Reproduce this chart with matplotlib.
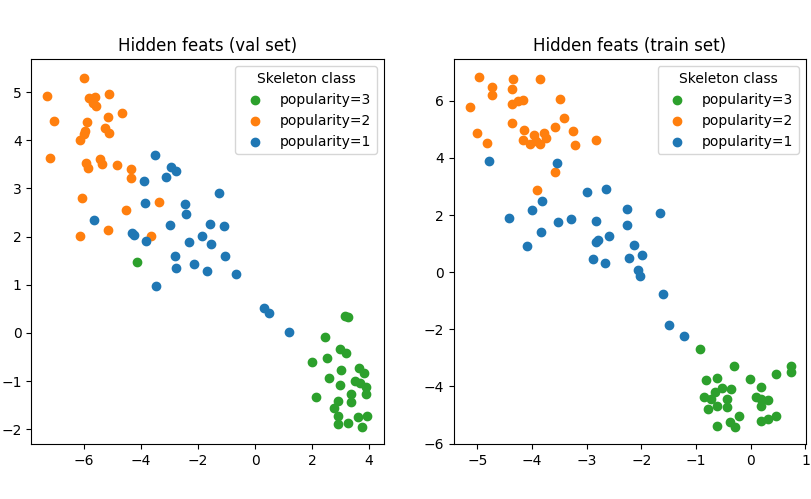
import numpy as np
import matplotlib
matplotlib.use("Agg")
import matplotlib.pyplot as plt

# ---- val set ----
val_pop3_x = [-4.14, 3.15, 3.27, 2.46, 2.97, 3.18, 1.99, 2.53, 3.02, 3.65, 3.81, 2.59, 3.51,
              3.70, 3.91, 2.98, 3.89, 3.38, 2.14, 2.90, 2.77, 3.37, 2.90, 3.63, 3.93, 2.90,
              3.26, 3.75]
val_pop3_y = [1.47, 0.35, 0.32, -0.08, -0.34, -0.41, -0.60, -0.52, -0.77, -0.72, -0.83, -0.93,
              -0.99, -1.05, -1.13, -1.08, -1.27, -1.27, -1.33, -1.42, -1.55, -1.43, -1.72,
              -1.74, -1.72, -1.89, -1.87, -1.95]

val_pop2_x = [-6.00, -7.30, -5.83, -5.61, -5.68, -5.59, -5.12, -7.06, -4.67, -5.16, -5.89,
              -5.96, -6.01, -5.26, -5.14, -6.14, -7.19, -5.95, -5.86, -5.45, -5.37, -4.84,
              -4.35, -4.35, -3.37, -6.06, -4.53, -5.16, -6.13, -3.64]
val_pop2_y = [5.30, 4.91, 4.87, 4.90, 4.78, 4.71, 4.96, 4.39, 4.57, 4.48, 4.37,
              4.19, 4.12, 4.26, 4.15, 4.00, 3.63, 3.53, 3.42, 3.61, 3.50, 3.48,
              3.40, 3.21, 2.72, 2.80, 2.55, 2.13, 2.01, 2.01]

val_pop1_x = [-3.51, -2.96, -2.77, -3.12, -3.89, -1.27, -3.86, -2.46, -2.42, -2.98, -1.59,
              -1.09, -4.33, -4.25, -3.82, -1.86, -2.33, -1.55, -2.81, -1.06, -2.77, -2.14,
              -1.68, -0.68, -3.47, -5.65, 0.33, 0.49, 1.18]
val_pop1_y = [3.69, 3.45, 3.36, 3.23, 3.15, 2.91, 2.70, 2.67, 2.47, 2.25, 2.26,
              2.22, 2.08, 2.04, 1.90, 2.01, 1.88, 1.84, 1.59, 1.60, 1.35, 1.43,
              1.28, 1.22, 0.98, 2.34, 0.51, 0.41, 0.02]

# ---- train set ----
train_pop3_x = [-0.93, -0.31, 0.73, 0.73, 0.46, -0.01, -0.81, -0.61, 0.19, -0.52, -0.37,
                -0.66, -0.86, -0.73, -0.44, 0.10, 0.19, 0.32, -0.61, -0.79, -0.43, 0.19,
                -0.21, 0.46, 0.31, 0.19, -0.38, -0.28, -0.61]
train_pop3_y = [-2.69, -3.29, -3.27, -3.50, -3.57, -3.75, -3.79, -3.71, -4.01, -4.06, -4.09,
                -4.21, -4.36, -4.44, -4.43, -4.36, -4.43, -4.49, -4.70, -4.78, -4.73, -4.70,
                -5.03, -5.03, -5.14, -5.20, -5.26, -5.41, -5.38]

train_pop2_x = [-4.97, -4.73, -4.73, -4.35, -3.85, -5.14, -4.36, -4.37, -4.25, -4.16, -3.49,
                -3.41, -5.01, -4.82, -4.37, -4.15, -4.17, -4.04, -3.96, -3.92, -3.85, -3.78,
                -3.75, -3.58, -3.25, -3.22, -2.84, -3.58, -3.91]
train_pop2_y = [6.82, 6.47, 6.20, 6.75, 6.75, 5.77, 6.40, 5.90, 5.99, 6.02, 6.05,
                5.41, 4.87, 4.52, 5.22, 4.98, 4.62, 4.47, 4.80, 4.60, 4.50, 4.86,
                4.70, 5.08, 4.95, 4.45, 4.63, 3.50, 2.87]

train_pop1_x = [-4.79, -3.55, -3.00, -2.64, -3.82, -4.00, -4.42, -3.84, -4.09, -3.52, -3.29,
                -2.84, -2.26, -1.66, -2.26, -2.80, -2.83, -2.59, -2.13, -1.99, -2.88, -2.66,
                -2.23, -2.06, -2.02, -1.60, -1.49, -1.23]
train_pop1_y = [3.89, 3.82, 2.81, 2.91, 2.48, 2.17, 1.89, 1.40, 0.91, 1.75, 1.85,
                1.80, 2.20, 2.06, 1.64, 1.12, 1.06, 1.26, 0.94, 0.59, 0.45, 0.31,
                0.49, 0.08, -0.13, -0.77, -1.85, -2.23]

fig, axes = plt.subplots(1, 2, figsize=(8.11, 4.99), dpi=100)
fig.subplots_adjust(left=0.0388, right=0.9938, top=0.881, bottom=0.110, wspace=0.2)

panels = [
    (axes[0], "Hidden feats (val set)",
     (val_pop3_x, val_pop3_y), (val_pop2_x, val_pop2_y), (val_pop1_x, val_pop1_y),
     (-7.85, 4.51), (-2.31, 5.68)),
    (axes[1], "Hidden feats (train set)",
     (train_pop3_x, train_pop3_y), (train_pop2_x, train_pop2_y), (train_pop1_x, train_pop1_y),
     (-5.43, 1.01), (-6.02, 7.45)),
]

for ax, title, p3, p2, p1, xlim, ylim in panels:
    ax.scatter(*p3, color="C2", label="popularity=3")
    ax.scatter(*p2, color="C1", label="popularity=2")
    ax.scatter(*p1, color="C0", label="popularity=1")
    ax.set_title(title)
    ax.set_xlim(*xlim)
    ax.set_ylim(*ylim)
    ax.legend(title="Skeleton class", loc="upper right")

fig.savefig("out.png", dpi=100)
